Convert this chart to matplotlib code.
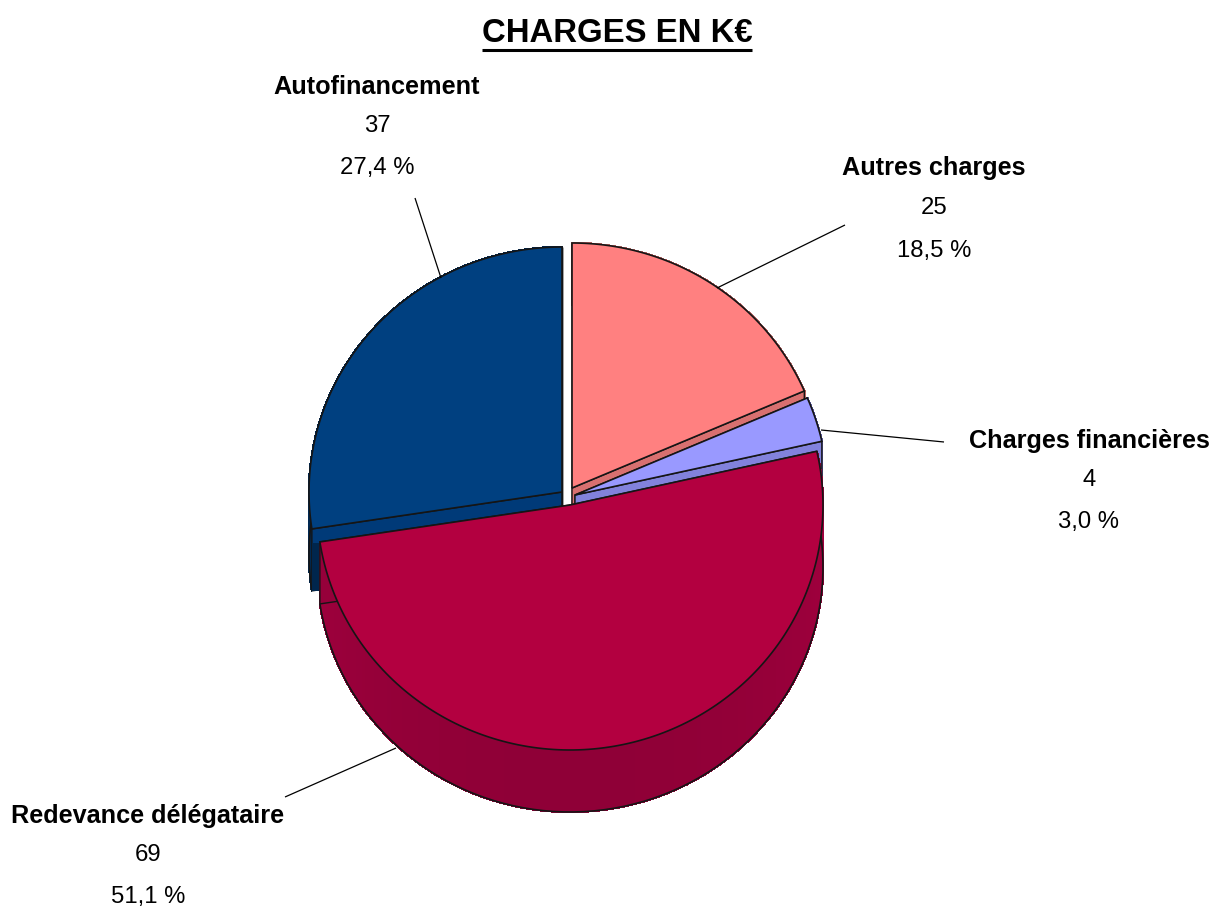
#!/usr/bin/env python3
"""Exploded pseudo-3D pie of charges in kEUR, drawn with plain polygons."""
import numpy as np
import matplotlib
matplotlib.use("Agg")
import matplotlib.pyplot as plt
from matplotlib.colors import to_rgb
from matplotlib.patches import Polygon

W, H = 1215, 909

# data, clockwise from 12 o'clock
names = ["Autres charges", "Charges financières", "Redevance délégataire", "Autofinancement"]
values = [25, 4, 69, 37]
percents = ["18,5 %", "3,0 %", "51,1 %", "27,4 %"]

colors = ["#ff8080", "#9999ff", "#b30040", "#004080"]
cut_colors = ["#d87070", "#8282dc", "#96003a", "#003a78"]
rim_colors = ["#b06060", "#5a5aa0", "#98003a", "#00264d"]

# layout, in picture pixels
centers = [(572, 488), (575, 495), (570, 505), (562, 492)]
RX, RY = 253, 245
DEPTH = 62
EDGE = "#151515"
label_pos = [(934, 168, 41), (1089, 441, 40), (148, 816, 40), (377, 87, 40)]
leaders = [((845, 225), (717, 288)), ((944, 442), (821, 430)),
           ((285, 797), (396, 748)), ((415, 198), (441, 278))]

fig = plt.figure(figsize=(W / 100, H / 100), dpi=100)
ax = fig.add_axes([0, 0, 1, 1])
ax.set_xlim(0, W)
ax.set_ylim(H, 0)
ax.axis("off")


def arc(center, a0, a1, n=160):
    """Points on the ellipse between two clockwise angles (radians from top)."""
    t = np.linspace(a0, a1, n)
    return t, np.column_stack([center[0] + RX * np.sin(t), center[1] - RY * np.cos(t)])


def draw_slice(center, a0, a1, color, cut, rim):
    t, pts = arc(center, a0, a1)
    low = pts + [0, DEPTH]
    apex = np.array(center, dtype=float)
    # rim in short pieces so it gets darker towards the bottom
    base = np.array(to_rgb(rim))
    for k in range(len(pts) - 1):
        shade = np.clip(base * (1.06 - 0.12 * max(0.0, -np.cos(t[k]))), 0, 1)
        piece = [pts[k], pts[k + 1], low[k + 1], low[k]]
        # no antialiasing here, otherwise the seams between pieces show up as stripes
        ax.add_patch(Polygon(piece, fc=shade, ec=shade, lw=1.0, antialiased=False))
    ax.add_patch(Polygon(low, closed=False, fill=False, ec=EDGE, lw=1.2))
    for edge in (pts[0], pts[-1]):
        quad = [apex, edge, edge + [0, DEPTH], apex + [0, DEPTH]]
        ax.add_patch(Polygon(quad, fc=cut, ec=EDGE, lw=1.0))
    ax.add_patch(Polygon(np.vstack([apex, pts]), fc=color, ec=EDGE, lw=1.2))
    return pts


fractions = np.array(values) / sum(values)
ends = np.cumsum(fractions) * 2 * np.pi
starts = np.concatenate([[0], ends[:-1]])

# painter's order: back slices first, the big front one last
for i in [3, 0, 1, 2]:
    pts = draw_slice(centers[i], starts[i], ends[i], colors[i], cut_colors[i], rim_colors[i])
    if i == 3:
        # dark column at the outer end of the blue cut face
        e = pts[0]
        ax.add_patch(Polygon([e + [0, 14], e + [10, 14], e + [10, DEPTH], e + [0, DEPTH]],
                             fc=rim_colors[3], ec="none"))

for (x0, y0), (x1, y1) in leaders:
    ax.plot([x0, x1], [y0, y1], color="black", lw=0.9, solid_capstyle="butt")

for i, (x, y, step) in enumerate(label_pos):
    ax.text(x, y, names[i], ha="center", va="center", fontsize=18.2,
            family="Liberation Sans", fontweight="bold", color="black")
    ax.text(x, y + step - 1, str(values[i]), ha="center", va="center", fontsize=17.2,
            family="Liberation Sans", color="black")
    ax.text(x, y + 2 * step + 1, percents[i], ha="center", va="center", fontsize=17.2,
            family="Liberation Sans", color="black")

ax.text(617, 33, "CHARGES EN K€", ha="center", va="center", fontsize=23.7,
        family="Liberation Sans", fontweight="bold", color="black")
ax.plot([482, 752], [50, 50], color="black", lw=2.2, solid_capstyle="butt")

fig.savefig("out.png", dpi=100, facecolor="white")
